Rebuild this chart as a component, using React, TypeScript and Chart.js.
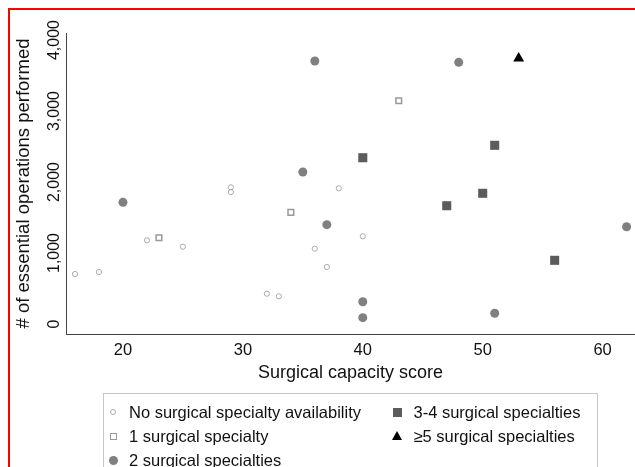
import { useEffect, useRef } from "react";
import { Chart, registerables } from "chart.js";

Chart.register(...registerables);

const FONT = "'Liberation Sans', Arial, Helvetica, sans-serif";

const xTicks = [20, 30, 40, 50, 60];
const yTicks = [0, 1000, 2000, 3000, 4000];

const seriesLabels = [
  "No surgical specialty availability",
  "1 surgical specialty",
  "2 surgical specialties",
  "3-4 surgical specialties",
  "≥5 surgical specialties",
];

const noneX = [16, 18, 22, 25, 29, 29, 32, 33, 36, 37, 38, 40];
const noneY = [704, 732, 1179, 1089, 1925, 1859, 427, 390, 1061, 803, 1911, 1235];
const oneX = [23, 34, 43];
const oneY = [1215, 1573, 3145];
const twoX = [20, 35, 36, 37, 40, 40, 48, 51, 62];
const twoY = [1714, 2141, 3704, 1399, 314, 89, 3686, 151, 1370];
const threeFourX = [40, 47, 50, 51, 56];
const threeFourY = [2342, 1666, 1841, 2517, 897];
const fivePlusX = [53];
const fivePlusY = [3742];

const pts = (xs: number[], ys: number[]) => xs.map((x, i) => ({ x, y: ys[i] }));

export default function App() {
  const ref = useRef<HTMLCanvasElement | null>(null);

  useEffect(() => {
    if (!ref.current) return;
    const chart = new Chart(ref.current, {
      type: "scatter",
      data: {
        datasets: [
          {
            label: seriesLabels[0],
            data: pts(noneX, noneY),
            pointStyle: "circle",
            pointRadius: 2.6,
            backgroundColor: "rgba(255,255,255,0)",
            borderColor: "#aaaaaa",
            borderWidth: 1,
            clip: false,
          },
          {
            label: seriesLabels[1],
            data: pts(oneX, oneY),
            pointStyle: "rect",
            pointRadius: 4,
            backgroundColor: "rgba(255,255,255,0)",
            borderColor: "#999999",
            borderWidth: 1.5,
            clip: false,
          },
          {
            label: seriesLabels[2],
            data: pts(twoX, twoY),
            pointStyle: "circle",
            pointRadius: 4.5,
            backgroundColor: "#808080",
            borderWidth: 0,
            clip: false,
          },
          {
            label: seriesLabels[3],
            data: pts(threeFourX, threeFourY),
            pointStyle: "rect",
            pointRadius: 6.4,
            backgroundColor: "#5c5c5c",
            borderWidth: 0,
            clip: false,
          },
          {
            label: seriesLabels[4],
            data: pts(fivePlusX, fivePlusY),
            pointStyle: "triangle",
            pointRadius: 6.3,
            backgroundColor: "#000000",
            borderWidth: 0,
            clip: false,
          },
        ] as any,
      },
      options: {
        animation: false,
        responsive: false,
        devicePixelRatio: 1,
        events: [],
        layout: { autoPadding: false, padding: { left: 0, right: 0, top: 23, bottom: 0 } },
        plugins: {
          legend: { display: false },
          tooltip: { enabled: false },
        },
        scales: {
          x: {
            type: "linear",
            min: 15.25,
            max: 62.7,
            afterBuildTicks: (s: any) => {
              s.ticks = xTicks.map((v) => ({ value: v }));
            },
            afterFit: (s: any) => {
              s.height = 61;
              s.paddingLeft = 0;
              s.paddingRight = 0;
            },
            ticks: {
              font: { family: FONT, size: 16.5 },
              color: "#111",
              padding: 7,
              autoSkip: false,
              maxRotation: 0,
              callback: (v: any) => String(v),
            },
            grid: { display: false, drawTicks: false },
            border: { display: true, color: "#444", width: 1 },
            title: {
              display: true,
              text: "Surgical capacity score",
              font: { family: FONT, size: 18 },
              color: "#111",
              padding: { top: 0, bottom: 11 },
            },
          },
          y: {
            type: "linear",
            min: -141,
            max: 4099,
            afterBuildTicks: (s: any) => {
              s.ticks = yTicks.map((v) => ({ value: v }));
            },
            afterFit: (s: any) => {
              s.width = 56;
              s.paddingTop = 0;
              s.paddingBottom = 0;
            },
            ticks: {
              font: { family: FONT, size: 16 },
              color: "#111",
              minRotation: 90,
              maxRotation: 90,
              crossAlign: "center",
              padding: -9,
              autoSkip: false,
              callback: (v: any) => Number(v).toLocaleString("en-US"),
            },
            grid: { display: false, drawTicks: false },
            border: { display: true, color: "#444", width: 1 },
            title: {
              display: true,
              text: "# of essential operations performed",
              font: { family: FONT, size: 18.5 },
              color: "#111",
              padding: { top: 3, bottom: 0 },
            },
          },
        },
      } as any,
    });
    return () => chart.destroy();
  }, []);

  const marker = (i: number) => {
    const base: any = { position: "absolute", left: 0, top: "50%", boxSizing: "border-box" };
    if (i === 0)
      return <span style={{ ...base, width: 6, height: 6, marginLeft: -3, marginTop: -3, border: "1px solid #aaa", borderRadius: "50%" }} />;
    if (i === 1)
      return <span style={{ ...base, width: 7, height: 7, marginLeft: -3.5, marginTop: -3.5, border: "1.5px solid #999" }} />;
    if (i === 2)
      return <span style={{ ...base, width: 9, height: 9, marginLeft: -4.5, marginTop: -4.5, background: "#808080", borderRadius: "50%" }} />;
    if (i === 3)
      return <span style={{ ...base, width: 9, height: 9, marginLeft: -4.5, marginTop: -4.5, background: "#5c5c5c" }} />;
    return (
      <span
        style={{
          ...base,
          width: 0,
          height: 0,
          marginLeft: -5.5,
          marginTop: -5,
          borderLeft: "5.5px solid transparent",
          borderRight: "5.5px solid transparent",
          borderBottom: "9.5px solid #000",
        }}
      />
    );
  };

  // legend layout: [markerX, rowCenterY] in page coords
  const legendPos: [number, number][] = [
    [113, 412],
    [113, 436],
    [113, 460],
    [397.5, 412],
    [397.5, 436],
  ];
  const boxLeft = 103;
  const boxTop = 393;

  return (
    <div
      style={{
        position: "fixed",
        left: 8,
        top: 8,
        width: 627,
        height: 459,
        boxSizing: "border-box",
        borderTop: "2px solid #ff0000",
        borderLeft: "2px solid #ff0000",
        overflow: "hidden",
        fontFamily: FONT,
        background: "#fff",
      }}
    >
      <canvas ref={ref} width={625} height={385} style={{ position: "absolute", left: 0, top: 0, width: 625, height: 385 }} />
      <div
        style={{
          position: "absolute",
          left: boxLeft - 10,
          top: boxTop - 10,
          width: 495,
          height: 120,
          border: "1px solid #c8c8c8",
          boxSizing: "border-box",
        }}
      >
        {seriesLabels.map((lab, i) => {
          const [mx, my] = legendPos[i];
          return (
            <div
              key={lab}
              style={{
                position: "absolute",
                left: mx - boxLeft - 1,
                top: my - boxTop - 1 - 10,
                height: 20,
                lineHeight: "20px",
                whiteSpace: "nowrap",
                fontSize: 16.5,
                color: "#111",
              }}
            >
              {marker(i)}
              <span style={{ position: "absolute", left: 16, top: 0 }}>{lab}</span>
            </div>
          );
        })}
      </div>
    </div>
  );
}
